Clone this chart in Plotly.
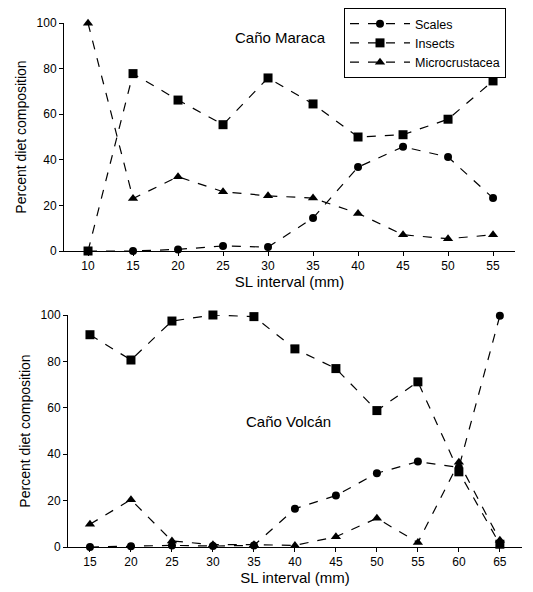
import plotly.graph_objects as go

# Caño Maraca (top)
sl_top = [10, 15, 20, 25, 30, 35, 40, 45, 50, 55]
scales_top = [0, 0, 0.7, 2.2, 1.7, 14.5, 36.8, 45.7, 41.2, 23.2]
insects_top = [0, 77.8, 66.2, 55.4, 75.9, 64.5, 50, 51, 57.8, 74.6]
micro_top = [99.9, 23, 32.6, 26, 24.2, 23.2, 16.5, 7.1, 5.4, 7.1]

# Caño Volcán (bottom)
sl_bot = [15, 20, 25, 30, 35, 40, 45, 50, 55, 60, 65]
scales_bot = [0, 0.3, 0.7, 0.4, 0.7, 16.5, 22.2, 31.8, 36.8, 34.3, 99.7]
insects_bot = [91.5, 80.6, 97.4, 100, 99.3, 85.4, 76.9, 58.8, 71.2, 32.4, 1.2]
micro_bot = [9.8, 20.4, 2.6, 1, 1, 0.7, 4.4, 12.4, 1.9, 36.5, 2.9]

y_ticks = [0, 20, 40, 60, 80, 100]

# page is 533x592; browser body margin of 8px offsets the figure
OFF = 8
W, H = 533 - OFF, 592 - OFF
FONT = "Liberation Sans, Arial, Helvetica, sans-serif"

fig = go.Figure()

series = [
    ("Scales", "circle", 8),
    ("Insects", "square", 9),
    ("Microcrustacea", "triangle-up", 9),
]

top_vals = [scales_top, insects_top, micro_top]
bot_vals = [scales_bot, insects_bot, micro_bot]

for (name, sym, sz), yv in zip(series, top_vals):
    fig.add_trace(go.Scatter(
        x=sl_top, y=yv, name=name, mode="lines+markers",
        line=dict(color="black", width=1.2, dash="dash"),
        marker=dict(symbol=sym, size=sz, color="black"),
        cliponaxis=False, xaxis="x", yaxis="y", showlegend=True,
    ))

for (name, sym, sz), yv in zip(series, bot_vals):
    fig.add_trace(go.Scatter(
        x=sl_bot, y=yv, name=name, mode="lines+markers",
        line=dict(color="black", width=1.2, dash="dash"),
        marker=dict(symbol=sym, size=sz, color="black"),
        cliponaxis=False, xaxis="x2", yaxis="y2", showlegend=False,
    ))


def px_x(p):
    return (p - OFF) / W


def px_y(p):
    return 1 - (p - OFF) / H


axis_common = dict(
    showline=True, linecolor="black", linewidth=1,
    ticks="outside", ticklen=4, tickcolor="black", tickwidth=1,
    showgrid=False, zeroline=False, automargin=False,
    tickfont=dict(family=FONT, size=12, color="black"),
)

fig.update_layout(
    width=W, height=H,
    margin=dict(l=0, r=0, t=0, b=0),
    paper_bgcolor="white", plot_bgcolor="white",
    font=dict(family=FONT, color="black"),
    xaxis=dict(
        **axis_common, domain=[px_x(64), px_x(515)], range=[7.33, 57.44],
        tickvals=sl_top, anchor="y",
        title=dict(text="SL interval (mm)", font=dict(family=FONT, size=15), standoff=0),
    ),
    yaxis=dict(
        **axis_common, domain=[px_y(251), px_y(23)], range=[0, 100],
        tickvals=y_ticks, anchor="x",
        title=dict(text="Percent diet composition", font=dict(family=FONT, size=14), standoff=6),
    ),
    xaxis2=dict(
        **axis_common, domain=[px_x(68), px_x(522)], range=[12.32, 67.7],
        tickvals=sl_bot, anchor="y2",
        title=dict(text="SL interval (mm)", font=dict(family=FONT, size=15), standoff=0),
    ),
    yaxis2=dict(
        **axis_common, domain=[px_y(547), px_y(315)], range=[0, 100],
        tickvals=y_ticks, anchor="x2",
        title=dict(text="Percent diet composition", font=dict(family=FONT, size=14), standoff=6),
    ),
    legend=dict(
        x=px_x(344), y=px_y(OFF), xanchor="left", yanchor="top",
        bordercolor="black", borderwidth=1, bgcolor="white",
        font=dict(family=FONT, size=12.5, color="black"),
        tracegroupgap=0, itemwidth=60,
    ),
    showlegend=True,
)

fig.add_annotation(
    text="Caño Maraca", x=px_x(280), y=px_y(37), xref="paper", yref="paper",
    xanchor="center", yanchor="middle",
    showarrow=False, font=dict(family=FONT, size=15, color="black"),
)
fig.add_annotation(
    text="Caño Volcán", x=px_x(288), y=px_y(421), xref="paper", yref="paper",
    xanchor="center", yanchor="middle",
    showarrow=False, font=dict(family=FONT, size=15, color="black"),
)

fig.write_html("out.html")
